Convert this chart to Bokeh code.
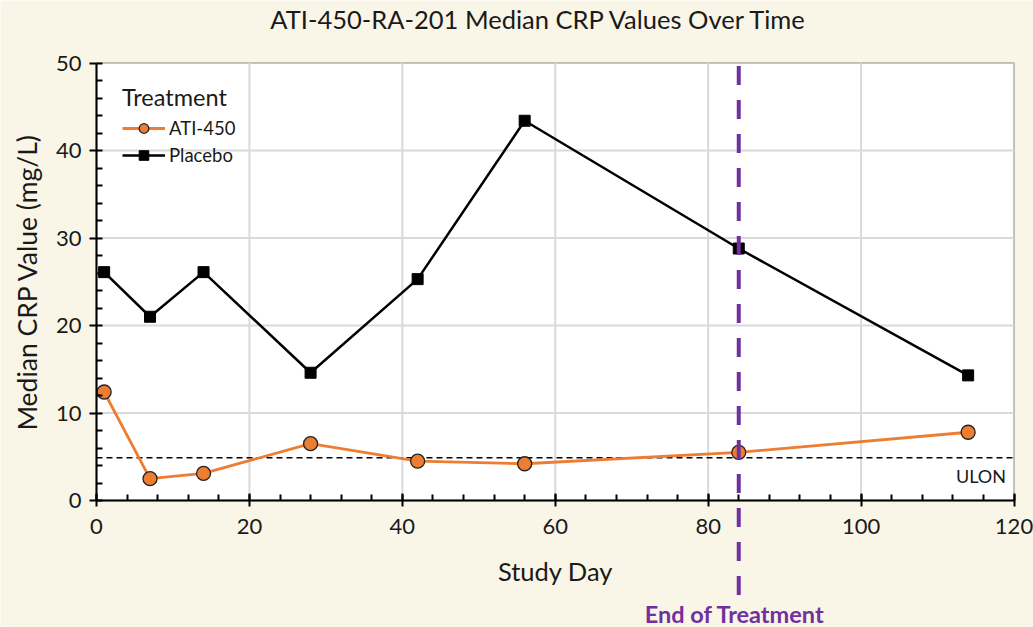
from bokeh.plotting import figure
from bokeh.models import (LinearAxis, SingleIntervalTicker, Range1d, BoxAnnotation,
                          Legend, LegendItem)
from bokeh.core.properties import value
from bokeh.embed import file_html
from bokeh.resources import INLINE

# ---------------- data ----------------
days = [1, 7, 14, 28, 42, 56, 84, 114]
ati450 = [12.4, 2.5, 3.1, 6.5, 4.5, 4.2, 5.5, 7.8]
placebo = [26.1, 21.0, 26.1, 14.6, 25.3, 43.4, 28.8, 14.3]
uln_value = 4.9
eot_day = 84
x_ticks = [0, 20, 40, 60, 80, 100, 120]
y_ticks = [0, 10, 20, 30, 40, 50]
chart_title = "ATI-450-RA-201 Median CRP Values Over Time"
x_label = "Study Day"
y_label = "Median CRP Value (mg/L)"
legend_title = "Treatment"
series_names = ["ATI-450", "Placebo"]
uln_label = "ULON"
eot_label = "End of Treatment"

# ---------------- layout / style ----------------
W, H = 1033, 627
FONT = "Lato"
BG = "#F9F5E7"
ORANGE = "#ED7D31"
PURPLE = "#7030A0"
GRID = "#D9D9D9"
TXT = "#1a1a1a"

x_min, x_max = x_ticks[0], x_ticks[-1]
y_min, y_max = y_ticks[0], y_ticks[-1]

# pixel geometry of the plot area (frame covers the whole canvas)
PX_LEFT, PX_RIGHT = 96, 1013.5
PY_BOTTOM, PY_TOP = 500, 62.5
sx = (PX_RIGHT - PX_LEFT) / (x_max - x_min)
sy = (PY_BOTTOM - PY_TOP) / (y_max - y_min)


def dx(px):
    return x_min + (px - PX_LEFT) / sx


def dy(py):
    return y_min + (PY_BOTTOM - py) / sy


p = figure(width=W, height=H, output_backend="svg", toolbar_location=None,
           x_range=Range1d(dx(0), dx(W)), y_range=Range1d(dy(H), dy(0)),
           x_axis_location=None, y_axis_location=None, min_border=0,
           background_fill_color=BG, border_fill_color=BG, outline_line_color=None)
p.xgrid.visible = False
p.ygrid.visible = False

# title
p.text(x=[dx(538.5)], y=[dy(18.5)], text=[chart_title],
       text_font=value(FONT), text_font_size="25.5px", text_color=TXT,
       text_align="center", text_baseline="middle")

# white plot area with dark border
p.add_layout(BoxAnnotation(left=x_min, right=x_max, bottom=y_min, top=y_max,
                           fill_color="white", fill_alpha=1.0,
                           line_color="#3A3A3A", line_width=2, level="image"))

# grid lines
gx = x_ticks[1:-1]
gy = y_ticks[1:-1]
p.segment(x0=gx, y0=[y_min] * len(gx), x1=gx, y1=[y_max] * len(gx),
          line_color=GRID, line_width=2)
p.segment(x0=[x_min] * len(gy), y0=gy, x1=[x_max] * len(gy), y1=gy,
          line_color=GRID, line_width=2)

# axes
xaxis = LinearAxis(fixed_location=y_min, bounds=(x_min, x_max),
                   ticker=SingleIntervalTicker(interval=20, num_minor_ticks=5),
                   axis_label=x_label)
yaxis = LinearAxis(fixed_location=x_min, bounds=(y_min, y_max),
                   ticker=SingleIntervalTicker(interval=10, num_minor_ticks=5),
                   axis_label=y_label)
for ax in (xaxis, yaxis):
    ax.axis_line_color = "black"
    ax.axis_line_width = 2
    ax.major_tick_line_color = "black"
    ax.major_tick_line_width = 2
    ax.minor_tick_line_color = "black"
    ax.minor_tick_line_width = 2
    ax.minor_tick_in = 6
    ax.minor_tick_out = 0
    ax.major_label_text_font = FONT
    ax.major_label_text_font_size = "22px"
    ax.major_label_text_color = TXT
    ax.axis_label_text_font = FONT
    ax.axis_label_text_font_style = "normal"
    ax.axis_label_text_color = TXT
xaxis.major_tick_in = 7
xaxis.major_tick_out = 6
xaxis.major_label_standoff = 12
xaxis.axis_label_standoff = 19
xaxis.axis_label_text_font_size = "25.5px"
yaxis.major_tick_in = 0
yaxis.major_tick_out = 7
yaxis.major_label_standoff = 8
yaxis.axis_label_standoff = 10
yaxis.axis_label_text_font_size = "26.5px"
p.add_layout(xaxis, "below")
p.add_layout(yaxis, "left")

# ULN reference line
p.segment(x0=[x_min], y0=[uln_value], x1=[x_max], y1=[uln_value],
          line_color="black", line_width=1.5, line_dash="6 4")
p.text(x=[x_max], y=[uln_value], text=[uln_label], x_offset=-8, y_offset=7,
       text_font=value(FONT), text_font_size="18px", text_color=TXT,
       text_align="right", text_baseline="top")

# series
ati_line = p.line(days, ati450, line_color=ORANGE, line_width=2.8)
ati_pts = p.scatter(days, ati450, marker="circle", size=14, fill_color=ORANGE,
                    line_color="#222222", line_width=1.3)
pla_line = p.line(days, placebo, line_color="black", line_width=2.5)
pla_pts = p.scatter(days, placebo, marker="square", size=11, fill_color="black",
                    line_color="black")

# end of treatment marker (drawn above the series)
p.segment(x0=[eot_day], y0=[y_max], x1=[eot_day], y1=[dy(597)],
          line_color=PURPLE, line_width=4, line_dash="19 15", line_dash_offset=-3)
p.text(x=[eot_day], y=[dy(613)], text=[eot_label], x_offset=-4,
       text_font=value(FONT), text_font_size="23.5px", text_font_style="bold",
       text_color=PURPLE, text_align="center", text_baseline="middle")

legend = Legend(items=[LegendItem(label=series_names[0], renderers=[ati_line, ati_pts]),
                       LegendItem(label=series_names[1], renderers=[pla_line, pla_pts])],
                title=legend_title, location=(122, H - 167),
                background_fill_alpha=0, border_line_color=None,
                padding=0, spacing=3, glyph_width=43, glyph_height=24,
                label_height=24, label_standoff=4, title_standoff=5,
                label_text_font=FONT, label_text_font_size="18.5px",
                label_text_color=TXT,
                title_text_font=FONT, title_text_font_size="23.5px",
                title_text_font_style="normal", title_text_color=TXT)
p.add_layout(legend, "center")

html = file_html(p, INLINE)
html = html.replace("<body>", '<body style="background-color:%s;">' % BG, 1)
open("out.html", "w").write(html)
